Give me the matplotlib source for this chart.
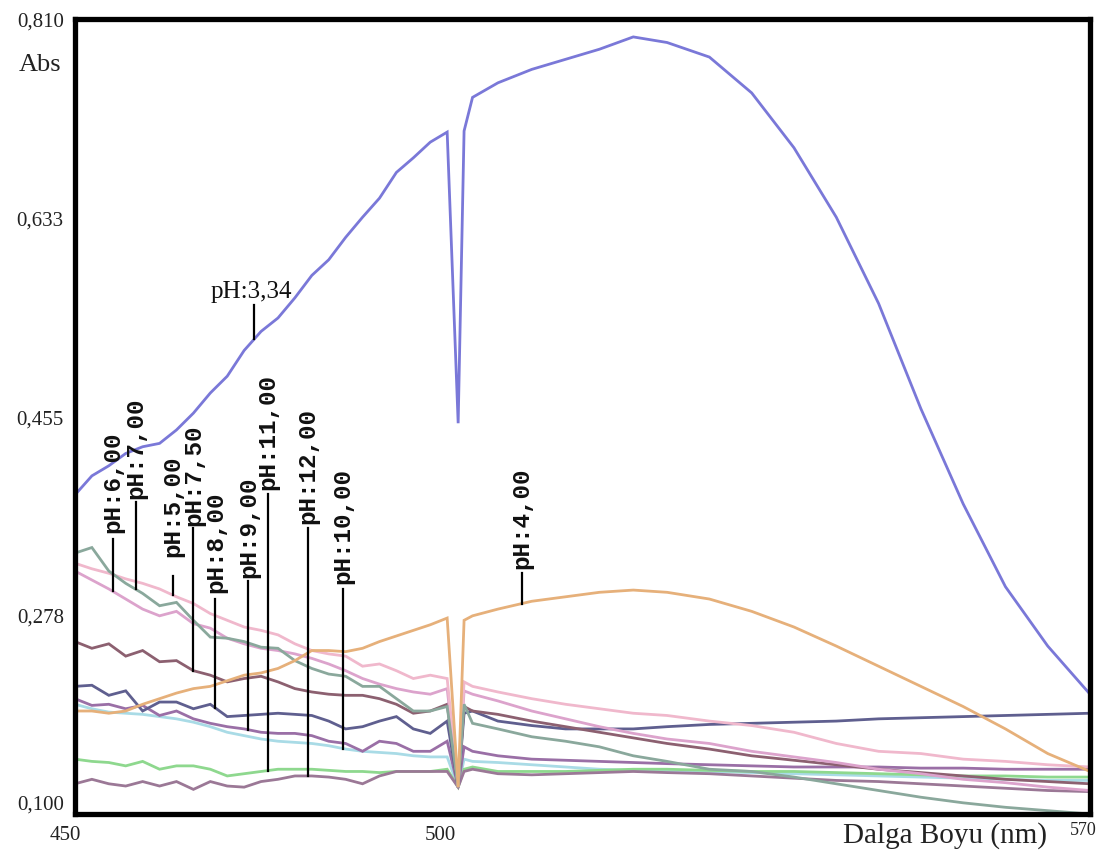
import matplotlib.pyplot as plt
import numpy as np

# wavelength grid (nm) and absorbance
wl = [450, 452, 454, 456, 458, 460, 462, 464, 466, 468, 470, 472, 474, 476, 478, 480,
      482, 484, 486, 488, 490, 492, 494, 495.3, 496, 497, 500, 504, 508, 512, 516, 520,
      525, 530, 535, 540, 545, 550, 555, 560, 565, 570]

abs_ph334 = [0.385, 0.402, 0.411, 0.422, 0.428, 0.431, 0.443, 0.458, 0.476, 0.491, 0.514,
             0.531, 0.543, 0.561, 0.581, 0.595, 0.615, 0.633, 0.650, 0.673, 0.686, 0.700,
             0.709, 0.449, 0.710, 0.740, 0.753, 0.765, 0.774, 0.783, 0.794, 0.789, 0.776,
             0.744, 0.695, 0.633, 0.556, 0.462, 0.377, 0.303, 0.250, 0.207]
abs_ph4 = [0.192, 0.192, 0.190, 0.192, 0.198, 0.203, 0.208, 0.212, 0.214, 0.219, 0.224,
           0.226, 0.230, 0.237, 0.246, 0.246, 0.245, 0.248, 0.254, 0.259, 0.264, 0.269,
           0.275, 0.124, 0.273, 0.277, 0.283, 0.290, 0.294, 0.298, 0.300, 0.298, 0.292,
           0.281, 0.267, 0.250, 0.232, 0.214, 0.196, 0.176, 0.154, 0.138]
abs_ph5 = [0.324, 0.319, 0.315, 0.310, 0.306, 0.301, 0.294, 0.288, 0.279, 0.273, 0.267,
           0.264, 0.260, 0.252, 0.246, 0.243, 0.241, 0.232, 0.234, 0.228, 0.221, 0.224,
           0.221, 0.124, 0.218, 0.214, 0.209, 0.203, 0.198, 0.194, 0.190, 0.188, 0.183,
           0.179, 0.173, 0.163, 0.156, 0.154, 0.149, 0.147, 0.144, 0.142]
abs_ph6 = [0.317, 0.309, 0.301, 0.292, 0.283, 0.277, 0.281, 0.270, 0.266, 0.257, 0.252,
           0.248, 0.246, 0.243, 0.239, 0.234, 0.228, 0.221, 0.216, 0.212, 0.209, 0.207,
           0.212, 0.124, 0.210, 0.207, 0.201, 0.192, 0.185, 0.178, 0.172, 0.167, 0.163,
           0.156, 0.151, 0.146, 0.140, 0.136, 0.131, 0.128, 0.124, 0.121]
abs_ph7 = [0.333, 0.338, 0.317, 0.306, 0.297, 0.286, 0.289, 0.273, 0.258, 0.257, 0.254,
           0.249, 0.248, 0.237, 0.230, 0.225, 0.223, 0.214, 0.214, 0.203, 0.192, 0.192,
           0.196, 0.124, 0.198, 0.181, 0.176, 0.169, 0.165, 0.160, 0.152, 0.147, 0.140,
           0.138, 0.133, 0.127, 0.121, 0.115, 0.110, 0.106, 0.103, 0.100]
abs_ph75 = [0.254, 0.248, 0.252, 0.241, 0.246, 0.236, 0.237, 0.228, 0.224, 0.218, 0.221,
            0.223, 0.218, 0.212, 0.209, 0.207, 0.206, 0.206, 0.203, 0.198, 0.190, 0.192,
            0.198, 0.124, 0.196, 0.192, 0.189, 0.183, 0.178, 0.173, 0.168, 0.163, 0.158,
            0.152, 0.148, 0.144, 0.140, 0.137, 0.134, 0.131, 0.129, 0.127]
abs_ph8 = [0.214, 0.215, 0.206, 0.210, 0.192, 0.200, 0.200, 0.194, 0.198, 0.187, 0.188,
           0.189, 0.190, 0.189, 0.188, 0.183, 0.176, 0.178, 0.183, 0.187, 0.176, 0.172,
           0.183, 0.124, 0.190, 0.192, 0.183, 0.179, 0.176, 0.176, 0.176, 0.178, 0.180,
           0.181, 0.182, 0.183, 0.185, 0.186, 0.187, 0.188, 0.189, 0.190]
abs_ph9 = [0.203, 0.197, 0.198, 0.194, 0.197, 0.188, 0.192, 0.185, 0.181, 0.178, 0.176,
           0.173, 0.172, 0.172, 0.170, 0.165, 0.163, 0.156, 0.165, 0.163, 0.156, 0.156,
           0.165, 0.124, 0.160, 0.156, 0.152, 0.149, 0.148, 0.147, 0.146, 0.145, 0.144,
           0.143, 0.142, 0.142, 0.142, 0.141, 0.141, 0.140, 0.140, 0.140]
abs_ph10 = [0.198, 0.194, 0.191, 0.190, 0.189, 0.187, 0.185, 0.182, 0.178, 0.173, 0.170,
            0.167, 0.165, 0.164, 0.163, 0.161, 0.158, 0.156, 0.155, 0.154, 0.152, 0.151,
            0.151, 0.124, 0.149, 0.147, 0.146, 0.144, 0.142, 0.140, 0.139, 0.138, 0.138,
            0.137, 0.136, 0.135, 0.134, 0.133, 0.132, 0.131, 0.130, 0.130]
abs_ph11 = [0.149, 0.147, 0.146, 0.143, 0.147, 0.140, 0.143, 0.143, 0.140, 0.134, 0.136,
            0.138, 0.140, 0.140, 0.140, 0.139, 0.138, 0.138, 0.137, 0.138, 0.138, 0.138,
            0.140, 0.124, 0.140, 0.142, 0.138, 0.138, 0.138, 0.139, 0.140, 0.140, 0.139,
            0.138, 0.138, 0.137, 0.136, 0.135, 0.134, 0.134, 0.133, 0.133]
abs_ph12 = [0.127, 0.131, 0.127, 0.125, 0.129, 0.125, 0.129, 0.122, 0.129, 0.125, 0.124,
            0.129, 0.131, 0.134, 0.134, 0.133, 0.131, 0.127, 0.134, 0.138, 0.138, 0.138,
            0.138, 0.124, 0.138, 0.140, 0.136, 0.135, 0.136, 0.137, 0.138, 0.137, 0.136,
            0.134, 0.132, 0.130, 0.129, 0.127, 0.125, 0.123, 0.121, 0.120]

spectra = {
    'pH:10,00': (abs_ph10, '#a9dbe6'),
    'pH:11,00': (abs_ph11, '#8ed88e'),
    'pH:12,00': (abs_ph12, '#9b7896'),
    'pH:9,00': (abs_ph9, '#9a6fa6'),
    'pH:8,00': (abs_ph8, '#5f5f8f'),
    'pH:7,50': (abs_ph75, '#8c6070'),
    'pH:6,00': (abs_ph6, '#dca3cc'),
    'pH:5,00': (abs_ph5, '#f0b8cc'),
    'pH:7,00': (abs_ph7, '#8aa89c'),
    'pH:4,00': (abs_ph4, '#e6b07a'),
    'pH:3,34': (abs_ph334, '#7a78d8'),
}

# rotated labels with their leader lines
label_txt = ['pH:6,00', 'pH:7,00', 'pH:5,00', 'pH:7,50', 'pH:8,00', 'pH:9,00',
             'pH:11,00', 'pH:12,00', 'pH:10,00', 'pH:4,00']
label_wl = [454.5, 457.2, 461.6, 464.0, 466.6, 470.5, 472.8, 477.5, 481.7, 502.8]
label_top = [0.346, 0.379, 0.313, 0.355, 0.292, 0.308, 0.386, 0.355, 0.301, 0.315]
label_text_y = [0.352, 0.382, 0.330, 0.358, 0.298, 0.312, 0.390, 0.360, 0.306, 0.320]

yticks = [0.100, 0.278, 0.455, 0.633, 0.810]
ytick_labels = ['0,100', '0,278', '0,455', '0,633', '0,810']

fig = plt.figure(figsize=(11.09, 8.62), dpi=100)
ax = fig.add_axes([0.0676, 0.0545, 0.9153, 0.9223])

for name, (vals, col) in spectra.items():
    ax.plot(wl, vals, color=col, lw=2.0, solid_joinstyle='miter')

ax.set_xlim(450, 570)
ax.set_ylim(0.100, 0.810)

for txt, x, top, ty in zip(label_txt, label_wl, label_top, label_text_y):
    bottom = np.interp(x, wl, spectra[txt][0])
    ax.plot([x, x], [bottom, top], color='black', lw=1.6)
    ax.text(x, ty, txt, rotation=90, ha='center', va='bottom', fontsize=17.5,
            family='Liberation Mono', fontweight='bold', color='#111111')

# horizontal label for pH 3.34
x334 = 471.2
ax.plot([x334, x334], [np.interp(x334, wl, abs_ph334), 0.555], color='black', lw=1.6)
ax.text(470.8, 0.557, 'pH:3,34', ha='center', va='bottom', fontsize=18,
        family='Liberation Serif', color='#111111')

for s in ax.spines.values():
    s.set_linewidth(3.8)
    s.set_color('black')

ax.set_xticks([])
ax.set_yticks(yticks)
ax.set_yticklabels(ytick_labels, family='Liberation Serif', fontsize=15, color='#222222')
ax.tick_params(axis='y', length=0, pad=8)
ax.get_yticklabels()[0].set_va('bottom')

fig.text(0.036, 0.925, 'Abs', ha='center', va='center', fontsize=19,
         family='Liberation Serif', color='#222222')
fig.text(0.0586, 0.031, '450', ha='center', va='center', fontsize=15,
         family='Liberation Serif', color='#222222')
fig.text(0.3968, 0.031, '500', ha='center', va='center', fontsize=15,
         family='Liberation Serif', color='#222222')
fig.text(0.9766, 0.036, '570', ha='center', va='center', fontsize=13,
         family='Liberation Serif', color='#222222')
fig.text(0.852, 0.031, 'Dalga Boyu (nm)', ha='center', va='center', fontsize=21,
         family='Liberation Serif', color='#222222')

fig.savefig('out.png', dpi=100)
